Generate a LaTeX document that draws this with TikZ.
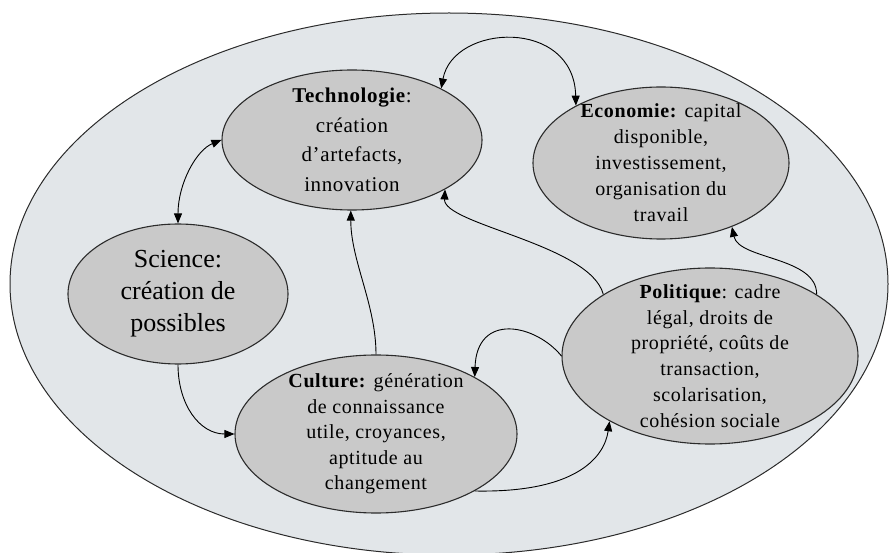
\documentclass[tikz,border=0pt]{standalone}
\usepackage{fontspec}
\setmainfont{Liberation Serif}
\newfontfamily\espace[LetterSpace=3]{Liberation Serif}
\usetikzlibrary{shapes.geometric,arrows.meta}
\definecolor{cLine}{HTML}{2B2B2B}
\definecolor{cBulle}{HTML}{C9C9C9}
\definecolor{cFond}{HTML}{E2E6E9}
\tikzset{
  monde/.style = {ellipse, draw=cLine, fill=cFond, line width=1pt, inner sep=0pt},
  bulle/.style = {ellipse, draw=cLine, fill=cBulle, line width=1.1pt, inner sep=0pt},
  txt/.style   = {align=center, inner sep=0pt, font=\espace\fontsize{20}{26}\selectfont},
  fl/.style    = {-{Triangle[length=10pt,width=8pt]}, draw=black, line width=0.9pt},
  fld/.style   = {{Triangle[length=10pt,width=8pt]}-{Triangle[length=10pt,width=8pt]},
                  draw=black, line width=0.9pt},
}

\begin{document}
\begin{tikzpicture}[x=1pt,y=-1pt]
  \useasboundingbox (0,0) rectangle (895,553);
  \node[monde, minimum width=878pt, minimum height=542pt] (m) at (449,284) {};

  \node[bulle, minimum width=260pt, minimum height=140pt] (tech) at (352,140) {};
  \node[bulle, minimum width=256pt, minimum height=152pt] (eco) at (661,163) {};
  \node[bulle, minimum width=220pt, minimum height=140pt] (sci) at (178,294) {};
  \node[bulle, minimum width=282pt, minimum height=158pt] (cul) at (376,434) {};
  \node[bulle, minimum width=296pt, minimum height=176pt] (pol) at (710,356) {};

  \node[txt, font=\espace\fontsize{21}{29.5}\selectfont] (tech-t) at (tech)
    {\textbf{Technologie}:\\création\\d’artefacts,\\innovation};
  \node[txt] (eco-t) at (eco)
    {\textbf{Economie:} capital\\disponible,\\investissement,\\organisation du\\travail};
  \node[txt, font=\fontsize{26}{32}\selectfont] (sci-t) at (sci)
    {Science:\\création de\\possibles};
  \node[txt, font=\espace\fontsize{20}{25.5}\selectfont] (cul-t) at (cul)
    {\textbf{Culture:} génération\\de connaissance\\utile, croyances,\\aptitude au\\changement};
  \node[txt, font=\espace\fontsize{20}{25.8}\selectfont] (pol-t) at (pol)
    {\textbf{Politique}: cadre\\légal, droits de\\propriété, coûts de\\transaction,\\scolarisation,\\cohésion sociale};

  \draw[fld] (tech.30) .. controls +(12,-65) and +(-2,-88) .. (eco.146);
  \draw[fld] (tech.180) .. controls +(-25,10) and +(0,-40) .. (sci.90);
  \draw[fl] (sci.270) .. controls +(0,40) and +(-35,0) .. (cul.180);
  \draw[fl] (cul.90) .. controls +(0,-50) and +(0,50) .. (tech.269);
  \draw[fl] (cul.330) .. controls +(103,2) and +(-5,35) .. (pol.213);
  \draw[fl] (pol.180) .. controls +(-26,-32) and +(2,-65) .. (cul.30);
  \draw[fl] (pol.150) .. controls +(-13,-50) and +(-2,35) .. (tech.332);
  \draw[fl] (pol.30) .. controls +(0,-38) and +(7,33) .. (eco.318);
\end{tikzpicture}
\end{document}
